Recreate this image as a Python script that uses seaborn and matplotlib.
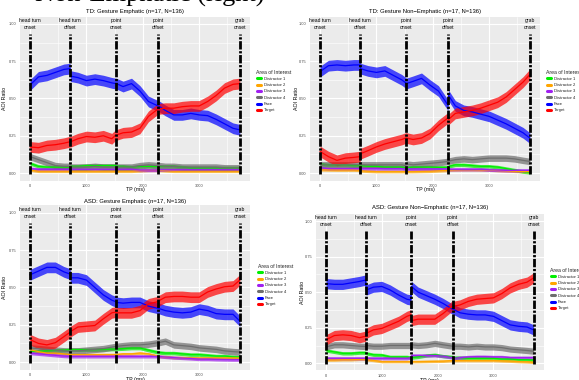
import numpy as np
import pandas as pd
import matplotlib
matplotlib.use("Agg")
import matplotlib.pyplot as plt
from matplotlib.lines import Line2D
from matplotlib.ticker import MultipleLocator
import seaborn as sns

# ---------------- data ----------------
time_ms = [0, 150, 300, 450, 600, 710, 720, 850, 1000, 1150, 1300, 1450, 1520, 1530,
           1650, 1800, 1950, 2100, 2270, 2280, 2400, 2550, 2700, 2850, 3000, 3150,
           3300, 3450, 3600, 3720]

aoi_names = ["Distractor 1", "Distractor 2", "Distractor 3", "Distractor 4", "Face", "Target"]
aoi_colors = ["#00EE00", "#FFA500", "#A020F0", "#6E6E6E", "#0000FF", "#FF0000"]
ci_half = [0.012, 0.009, 0.011, 0.022, 0.036, 0.036]

event_ms = [0, 715, 1520, 2270, 3720]
event_labels = ["head turn\nonset", "head turn\noffset", "point\nonset", "point\noffset", "grab\nonset"]

# TD: Gesture Emphatic
td_emph_face = [0.59, 0.645, 0.655, 0.675, 0.695, 0.70, 0.65, 0.64, 0.62, 0.63, 0.62, 0.605, 0.60, 0.60, 0.58,
                0.60, 0.55, 0.48, 0.45, 0.45, 0.42, 0.39, 0.39, 0.40, 0.39, 0.385, 0.36, 0.33, 0.30, 0.29]
td_emph_target = [0.175, 0.17, 0.185, 0.19, 0.20, 0.21, 0.21, 0.23, 0.245, 0.24, 0.25, 0.23, 0.255, 0.255, 0.27,
                  0.275, 0.30, 0.38, 0.43, 0.43, 0.435, 0.435, 0.445, 0.45, 0.45, 0.48, 0.52, 0.57, 0.595, 0.60]
td_emph_d4 = [0.11, 0.09, 0.07, 0.05, 0.045, 0.045, 0.04, 0.04, 0.04, 0.045, 0.04, 0.04, 0.04, 0.04, 0.04,
              0.04, 0.05, 0.055, 0.05, 0.05, 0.045, 0.045, 0.04, 0.04, 0.04, 0.04, 0.04, 0.035, 0.035, 0.035]
td_emph_d1 = [0.065, 0.045, 0.04, 0.04, 0.04, 0.04, 0.045, 0.045, 0.05, 0.05, 0.05, 0.05, 0.05, 0.045, 0.045,
              0.04, 0.045, 0.045, 0.045, 0.045, 0.045, 0.045, 0.04, 0.035, 0.035, 0.035, 0.035, 0.035, 0.035, 0.035]
td_emph_d3 = [0.03, 0.025, 0.025, 0.025, 0.025, 0.025, 0.025, 0.025, 0.025, 0.025, 0.025, 0.025, 0.025, 0.025, 0.025,
              0.025, 0.02, 0.02, 0.02, 0.022, 0.022, 0.022, 0.022, 0.022, 0.022, 0.022, 0.022, 0.022, 0.022, 0.022]
td_emph_d2 = [0.02, 0.012, 0.012, 0.012, 0.012, 0.012, 0.012, 0.012, 0.012, 0.012, 0.012, 0.012, 0.012, 0.012, 0.012,
              0.012, 0.015, 0.018, 0.018, 0.018, 0.015, 0.012, 0.012, 0.012, 0.012, 0.012, 0.012, 0.012, 0.012, 0.012]

# TD: Gesture Non-Emphatic
td_non_face = [0.68, 0.72, 0.725, 0.72, 0.725, 0.725, 0.70, 0.685, 0.675, 0.685, 0.655, 0.625, 0.605, 0.60, 0.615,
               0.635, 0.59, 0.55, 0.455, 0.52, 0.45, 0.42, 0.41, 0.395, 0.38, 0.355, 0.33, 0.30, 0.27, 0.235]
td_non_target = [0.145, 0.11, 0.085, 0.10, 0.105, 0.11, 0.13, 0.15, 0.175, 0.195, 0.21, 0.225, 0.235, 0.235, 0.225,
                 0.235, 0.265, 0.32, 0.37, 0.36, 0.40, 0.41, 0.42, 0.435, 0.455, 0.475, 0.51, 0.56, 0.61, 0.66]
td_non_d4 = [0.055, 0.055, 0.055, 0.055, 0.055, 0.055, 0.055, 0.055, 0.055, 0.055, 0.055, 0.055, 0.05, 0.06, 0.055,
             0.06, 0.065, 0.07, 0.078, 0.08, 0.09, 0.095, 0.09, 0.095, 0.10, 0.10, 0.10, 0.095, 0.085, 0.078]
td_non_d1 = [0.06, 0.055, 0.055, 0.055, 0.05, 0.05, 0.05, 0.045, 0.045, 0.04, 0.04, 0.04, 0.035, 0.035, 0.04,
             0.04, 0.04, 0.038, 0.038, 0.045, 0.055, 0.055, 0.05, 0.045, 0.045, 0.04, 0.03, 0.02, 0.01, 0.005]
td_non_d3 = [0.035, 0.03, 0.03, 0.03, 0.03, 0.03, 0.03, 0.03, 0.03, 0.03, 0.03, 0.03, 0.027, 0.027, 0.027,
             0.027, 0.027, 0.027, 0.027, 0.025, 0.025, 0.025, 0.025, 0.025, 0.022, 0.02, 0.018, 0.018, 0.018, 0.018]
td_non_d2 = [0.022, 0.021, 0.02, 0.02, 0.02, 0.018, 0.015, 0.012, 0.01, 0.01, 0.01, 0.01, 0.01, 0.01, 0.01,
             0.011, 0.012, 0.015, 0.018, 0.02, 0.021, 0.022, 0.022, 0.021, 0.02, 0.017, 0.015, 0.012, 0.011, 0.01]

# ASD: Gesture Emphatic
asd_emph_face = [0.585, 0.61, 0.635, 0.635, 0.605, 0.59, 0.565, 0.565, 0.55, 0.50, 0.45, 0.415, 0.405, 0.40, 0.395,
                 0.40, 0.40, 0.375, 0.36, 0.36, 0.345, 0.335, 0.33, 0.335, 0.355, 0.345, 0.325, 0.32, 0.32, 0.275]
asd_emph_target = [0.15, 0.125, 0.115, 0.13, 0.17, 0.20, 0.205, 0.235, 0.24, 0.245, 0.29, 0.33, 0.335, 0.33, 0.33,
                   0.33, 0.345, 0.39, 0.405, 0.41, 0.435, 0.44, 0.44, 0.435, 0.435, 0.47, 0.49, 0.505, 0.51, 0.55]
asd_emph_d4 = [0.095, 0.09, 0.085, 0.08, 0.075, 0.072, 0.075, 0.075, 0.08, 0.085, 0.09, 0.10, 0.105, 0.105, 0.11,
               0.115, 0.115, 0.12, 0.13, 0.13, 0.14, 0.115, 0.11, 0.105, 0.095, 0.09, 0.085, 0.075, 0.07, 0.067]
asd_emph_d1 = [0.072, 0.072, 0.075, 0.078, 0.08, 0.083, 0.083, 0.083, 0.083, 0.083, 0.085, 0.087, 0.087, 0.088, 0.09,
               0.094, 0.094, 0.08, 0.065, 0.065, 0.06, 0.06, 0.055, 0.05, 0.05, 0.045, 0.04, 0.04, 0.035, 0.034]
asd_emph_d2 = [0.083, 0.07, 0.06, 0.06, 0.055, 0.05, 0.05, 0.05, 0.05, 0.05, 0.05, 0.05, 0.05, 0.05, 0.055,
               0.055, 0.06, 0.055, 0.04, 0.038, 0.035, 0.03, 0.03, 0.028, 0.027, 0.027, 0.027, 0.027, 0.027, 0.027]
asd_emph_d3 = [0.06, 0.055, 0.05, 0.045, 0.04, 0.038, 0.038, 0.038, 0.038, 0.038, 0.038, 0.038, 0.038, 0.038, 0.038,
               0.038, 0.038, 0.038, 0.038, 0.038, 0.034, 0.03, 0.027, 0.024, 0.02, 0.02, 0.018, 0.017, 0.016, 0.016]

# ASD: Gesture Non-Emphatic
asd_non_face = [0.56, 0.555, 0.555, 0.565, 0.575, 0.585, 0.515, 0.535, 0.54, 0.515, 0.48, 0.45, 0.445, 0.54, 0.50,
                0.475, 0.45, 0.42, 0.38, 0.38, 0.355, 0.345, 0.34, 0.34, 0.33, 0.30, 0.27, 0.26, 0.255, 0.235]
asd_non_target = [0.165, 0.195, 0.20, 0.195, 0.18, 0.19, 0.21, 0.235, 0.245, 0.27, 0.295, 0.33, 0.34, 0.30, 0.31,
                  0.31, 0.31, 0.35, 0.405, 0.40, 0.41, 0.435, 0.45, 0.455, 0.46, 0.49, 0.53, 0.555, 0.57, 0.60]
asd_non_d4 = [0.115, 0.13, 0.13, 0.125, 0.12, 0.118, 0.125, 0.12, 0.12, 0.125, 0.125, 0.125, 0.125, 0.13, 0.125,
              0.13, 0.14, 0.13, 0.12, 0.12, 0.12, 0.115, 0.12, 0.115, 0.115, 0.11, 0.10, 0.095, 0.09, 0.085]
asd_non_d1 = [0.09, 0.08, 0.07, 0.07, 0.075, 0.075, 0.07, 0.06, 0.058, 0.045, 0.045, 0.045, 0.04, 0.04, 0.045,
              0.055, 0.06, 0.05, 0.045, 0.04, 0.04, 0.035, 0.035, 0.035, 0.035, 0.03, 0.03, 0.025, 0.025, 0.023]
asd_non_d3 = [0.035, 0.035, 0.035, 0.035, 0.035, 0.035, 0.035, 0.035, 0.035, 0.035, 0.035, 0.035, 0.04, 0.055, 0.055,
              0.055, 0.055, 0.05, 0.04, 0.035, 0.04, 0.045, 0.047, 0.047, 0.045, 0.045, 0.04, 0.04, 0.04, 0.04]
asd_non_d2 = [0.023, 0.023, 0.025, 0.025, 0.028, 0.028, 0.025, 0.02, 0.012, 0.012, 0.012, 0.012, 0.012, 0.012, 0.012,
              0.013, 0.014, 0.015, 0.019, 0.019, 0.019, 0.019, 0.019, 0.019, 0.019, 0.017, 0.015, 0.012, 0.01, 0.007]

panel_titles = ["TD: Gesture Emphatic (n=17, N=136)", "TD: Gesture Non\u2212Emphatic (n=17, N=136)",
                "ASD: Gesture Emphatic (n=17, N=136)", "ASD: Gesture Non\u2212Emphatic (n=17, N=136)"]
panel_series = [
    [td_emph_d1, td_emph_d2, td_emph_d3, td_emph_d4, td_emph_face, td_emph_target],
    [td_non_d1, td_non_d2, td_non_d3, td_non_d4, td_non_face, td_non_target],
    [asd_emph_d1, asd_emph_d2, asd_emph_d3, asd_emph_d4, asd_emph_face, asd_emph_target],
    [asd_non_d1, asd_non_d2, asd_non_d3, asd_non_d4, asd_non_face, asd_non_target],
]

# ---------------- layout (pixels) ----------------
W, H = 579, 380
sns.set_theme(style="darkgrid")
plt.rcParams['font.family'] = ['Liberation Sans', 'DejaVu Sans']

fig = plt.figure(figsize=(W / 100, H / 100), dpi=100)
fig.patch.set_facecolor("white")

def fx(px):
    return px / W

def fy(py):
    return 1 - py / H

# (left, top, right, bottom), title y, ylabel x, xlabel y, legend (x, title top y)
layout = [
    ((19.5, 16.5, 250.3, 180.5), 11, 5, 189, (256.5, 69.5)),
    ((309.5, 16.5, 540.3, 180.5), 11, 297, 190, (546.5, 69.5)),
    ((19.5, 205.5, 250.3, 369.5), 201, 5, 379, (257.5, 263.5)),
    ((315.6, 213.9, 544.0, 370.4), 207, 303, 381, (550.5, 267.5)),
]

# big cut-off heading at top
fig.text(fx(35), fy(1.5), "Non-Emphatic (right)", family=["Liberation Serif", "DejaVu Serif"],
         fontsize=19, ha="left", va="baseline", color="black")

for (title, series, (rect, ty, ylx, xly, (lgx, lgy))) in zip(panel_titles, panel_series, layout):
    l, t, r, b = rect
    ax = fig.add_axes([fx(l), fy(b), fx(r - l), (b - t) / H])
    ax.set_facecolor("#EBEBEB")
    ax.set_xlim(-186, 3906)
    ax.set_ylim(-0.05, 1.05)
    ax.xaxis.set_major_locator(MultipleLocator(1000))
    ax.xaxis.set_minor_locator(MultipleLocator(500))
    ax.yaxis.set_major_locator(MultipleLocator(0.25))
    ax.yaxis.set_minor_locator(MultipleLocator(0.125))
    ax.grid(which="major", color="white", linewidth=0.8)
    ax.grid(which="minor", color="white", linewidth=0.4)
    ax.set_axisbelow(True)
    for s in ax.spines.values():
        s.set_visible(False)
    ax.tick_params(axis="both", which="major", labelsize=2.9, labelcolor="#4D4D4D",
                   length=1.5, width=0.4, color="#333333", pad=1.0)
    ax.tick_params(axis="both", which="minor", length=0)
    ax.set_yticks([0, 0.25, 0.5, 0.75, 1.0])
    ax.set_yticklabels(["0.00", "0.25", "0.50", "0.75", "1.00"])

    rows = []
    for name, vals, hw in zip(aoi_names, series, ci_half):
        for tm, v in zip(time_ms, vals):
            rows.append({"AOI": name, "TP": tm, "ratio": v, "lo": v - hw, "hi": v + hw})
    df = pd.DataFrame(rows)

    for name, col in zip(aoi_names, aoi_colors):
        sub = df[df["AOI"] == name]
        ax.fill_between(sub["TP"], sub["lo"], sub["hi"], color=col, alpha=0.7, linewidth=0, zorder=2)
    sns.lineplot(data=df, x="TP", y="ratio", hue="AOI", hue_order=aoi_names, palette=aoi_colors,
                 estimator=None, linewidth=0.9, legend=False, ax=ax, zorder=3)

    ax.vlines(event_ms, -0.005, 0.93, colors="black", linewidth=2.0,
              linestyles=[(0, (3.0, 0.6, 0.8, 0.6))], zorder=5)
    for e, lab in zip(event_ms, event_labels):
        ax.text(e, 1.0, lab, ha="center", va="center", fontsize=3.6, linespacing=1.55,
                color="black", zorder=6)

    fig.text(fx((l + r) / 2), fy(ty), title, ha="center", va="center", fontsize=4.2, color="black")
    fig.text(fx(ylx), fy((t + b) / 2), "AOI Ratio", rotation=90, ha="center", va="center",
             fontsize=3.8, color="black")
    fig.text(fx((l + r) / 2), fy(xly), "TP (ms)", ha="center", va="center", fontsize=3.8, color="black")
    ax.set_xlabel("")
    ax.set_ylabel("")

    handles = [Line2D([], [], color=c, linewidth=2.2) for c in aoi_colors]
    leg = ax.legend(handles, aoi_names, title="Area of Interest", loc="upper left",
                    bbox_to_anchor=(fx(lgx), fy(lgy)), bbox_transform=fig.transFigure,
                    frameon=False, fontsize=3.0, title_fontsize=3.7, handlelength=1.1,
                    handletextpad=0.6, labelspacing=0.55, borderpad=0, borderaxespad=0,
                    alignment="left")
    for txt in leg.get_texts():
        txt.set_color("#222222")

fig.savefig("out.png", dpi=100)
